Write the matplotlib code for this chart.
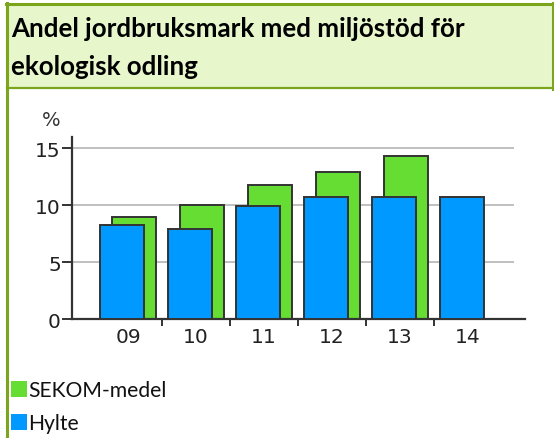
import matplotlib
matplotlib.use("Agg")
import matplotlib.pyplot as plt
from matplotlib.patches import Rectangle
import numpy as np

# data
years = ["09", "10", "11", "12", "13", "14"]
sekom = [9.0, 10.0, 11.8, 12.9, 14.3, np.nan]
hylte = [8.3, 7.95, 9.9, 10.75, 10.75, 10.75]

W, H = 554, 439
fig = plt.figure(figsize=(W / 100, H / 100), dpi=100)
fig.patch.set_facecolor("white")

def fx(px):
    return px / W

def fy(py):
    return 1 - py / H

border = "#7ca51e"
# header box
fig.patches.append(Rectangle((fx(7), fy(89)), fx(546), fy(5) - fy(89),
                             transform=fig.transFigure, facecolor="#e7f6cb",
                             edgecolor="none", zorder=0))
fig.add_artist(plt.Line2D([fx(7), fx(7)], [0, fy(4)], color=border, lw=2.2))
fig.add_artist(plt.Line2D([fx(6), fx(554)], [fy(5), fy(5)], color=border, lw=2.2))
fig.add_artist(plt.Line2D([fx(7), fx(554)], [fy(89), fy(89)], color=border, lw=1.6))
fig.add_artist(plt.Line2D([fx(553), fx(553)], [fy(4), fy(90)], color=border, lw=2.2))

title_font = ["Lato", "DejaVu Sans"]
fig.text(fx(11), fy(37), "Andel jordbruksmark med miljöstöd för", fontsize=18.6,
         fontweight="bold", family=title_font, va="baseline")
fig.text(fx(11), fy(75), "ekologisk odling", fontsize=18.6,
         fontweight="bold", family=title_font, va="baseline")

# chart
ax = fig.add_axes([fx(72), fy(320), fx(525) - fx(72), fy(138) - fy(320)])
x = np.arange(len(years))
bw = 0.647
off = 0.088
green = "#66dd33"
blue = "#0099ff"
edge = "#333333"

ax.bar(x + off, sekom, bw, color=green, edgecolor=edge, linewidth=1.4, zorder=2)
ax.bar(x - off, hylte, bw, color=blue, edgecolor=edge, linewidth=1.4, zorder=3)

ax.set_ylim(0, 16)
ax.set_xlim(-0.824, 5.838)
ax.hlines([5, 10, 15], -0.824, 5.676, color="#bbbbbb", lw=1.3, zorder=1)

ax.set_yticks([0, 5, 10, 15])
ax.set_yticklabels(["0", "5", "10", "15"])
ax.set_xticks(x)
ax.set_xticklabels(years)
ax.set_xticks(x[:-1] + 0.5, minor=True)
ax.tick_params(axis="x", which="major", length=0, pad=6, labelsize=14.5, colors="#222222")
ax.tick_params(axis="x", which="minor", length=5, width=1.4, color=edge, direction="out")
ax.tick_params(axis="y", length=7, width=1.4, color=edge, pad=1, labelsize=14.5, labelcolor="#222222")

for s in ["top", "right"]:
    ax.spines[s].set_visible(False)
for s in ["left", "bottom"]:
    ax.spines[s].set_color(edge)
    ax.spines[s].set_linewidth(1.6)
ax.set_facecolor("none")

fig.text(fx(51), fy(121), "%", fontsize=14, color="#333333", ha="center", va="center")

# legend
leg_font = ["Lato", "DejaVu Sans"]
for i, (lab, col) in enumerate([("SEKOM-medel", green), ("Hylte", blue)]):
    top = 382 + i * 33
    fig.patches.append(Rectangle((fx(11), fy(top + 16)), fx(16), fy(top) - fy(top + 16),
                                 transform=fig.transFigure, facecolor=col,
                                 edgecolor="none"))
    fig.text(fx(28), fy(top + 15), lab, fontsize=15.2, family=leg_font,
             va="baseline", color="#111111")

fig.savefig("out.png", dpi=100)
